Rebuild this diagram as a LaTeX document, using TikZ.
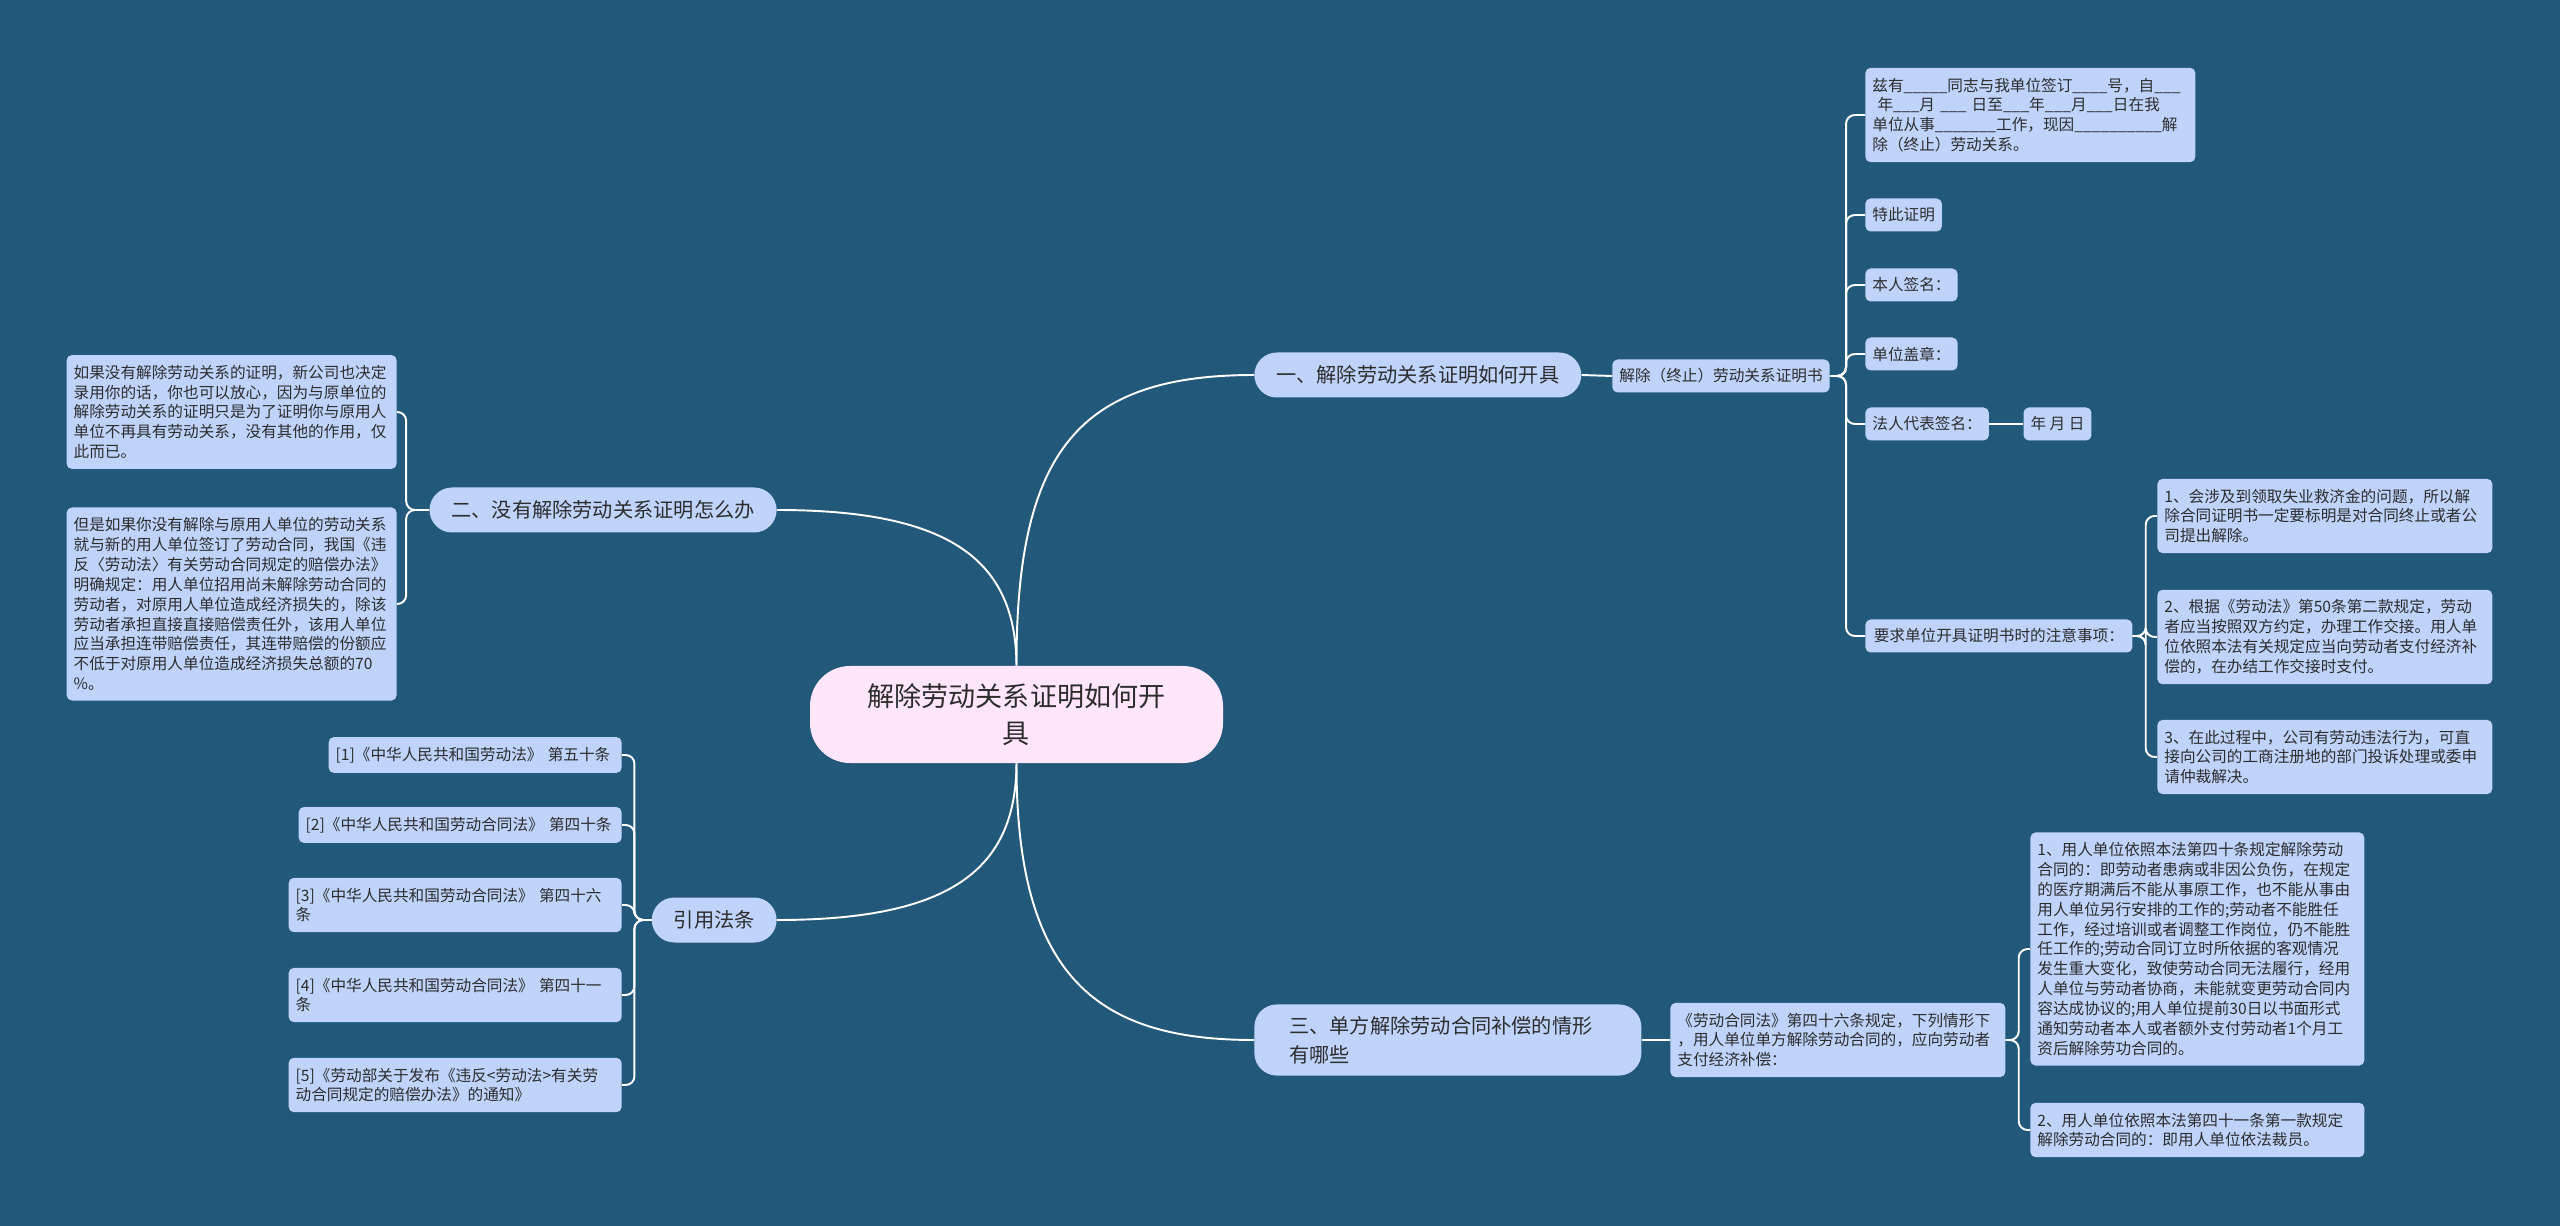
\documentclass[tikz,border=0pt]{standalone}
\usepackage{fontspec}
\setmainfont{Noto Sans CJK SC}
\usepackage{xcolor}
\definecolor{mapbg}{RGB}{34,88,122}
\definecolor{mapblue}{RGB}{191,211,251}
\definecolor{mappink}{RGB}{255,230,250}
\definecolor{maptext}{RGB}{45,45,45}
\usepackage{tikz}
\usetikzlibrary{positioning}

\begin{document}
\begin{tikzpicture}[x=0.2mm, y=-0.2mm,
  every node/.style={text=maptext},
  root/.style={fill=mappink, rounded corners=8mm, align=center, minimum width=82.6mm,
               minimum height=19.4mm, font=\fontsize{15.4}{21.3}\selectfont},
  branch/.style={fill=mapblue, rounded corners=4.5mm, inner xsep=4.4mm, minimum height=9mm,
                 font=\fontsize{11.5}{16.7}\selectfont},
  leaf/.style={fill=mapblue, rounded corners=3pt, align=left, inner xsep=1.4mm, inner ysep=2mm,
               font=\fontsize{8.9}{11.3}\selectfont},
  tag/.style={fill=mapblue, rounded corners=3pt, inner xsep=1.4mm, inner ysep=0pt,
              minimum height=6.6mm, font=\fontsize{8.9}{11.3}\selectfont},
  link/.style={draw=white, line width=1.1pt},
  elbow/.style={link, rounded corners=5pt}]

  % Background
  \fill[mapbg] (0,0) rectangle (2560,1226);
  \useasboundingbox (0,0) rectangle (2560,1226);

  % Root
  \node[root] (root) at (1016.5,714.5) {解除劳动关系证明如何开\\具};

  % Branch 1
  \node[branch, anchor=west] (b1) at (1254,375) {一、解除劳动关系证明如何开具};
  \node[tag, anchor=west] (cert) at (1612,376) {解除（终止）劳动关系证明书};
  \node[leaf, anchor=west, text width=63.2mm] (c1) at (1865,115)
       {兹有\_\_\_\_\_同志与我单位签订\_\_\_\_号，自\_\_\_\\
        \ 年\_\_\_月 \_\_\_ 日至\_\_\_年\_\_\_月\_\_\_日在我\\
        单位从事\_\_\_\_\_\_\_工作，现因\_\_\_\_\_\_\_\_\_\_解\\
        除（终止）劳动关系。};
  \node[tag, anchor=west] (c2) at (1865,215) {特此证明};
  \node[tag, anchor=west] (c3) at (1865,285) {本人签名：};
  \node[tag, anchor=west] (c4) at (1865,354) {单位盖章：};
  \node[tag, anchor=west] (c5) at (1865,424) {法人代表签名：};
  \node[tag, right=6.8mm of c5] (c5b) {年 月 日};
  \node[tag, anchor=west, minimum width=53.4mm] (c6) at (1865,636) {要求单位开具证明书时的注意事项：};
  \node[leaf, anchor=west, text width=64.2mm] (s1) at (2157,516)
       {1、会涉及到领取失业救济金的问题，所以解\\
        除合同证明书一定要标明是对合同终止或者公\\
        司提出解除。};
  \node[leaf, anchor=west, text width=64.2mm] (s2) at (2157,637)
       {2、根据《劳动法》第50条第二款规定，劳动\\
        者应当按照双方约定，办理工作交接。用人单\\
        位依照本法有关规定应当向劳动者支付经济补\\
        偿的，在办结工作交接时支付。};
  \node[leaf, anchor=west, text width=64.2mm] (s3) at (2157,757)
       {3、在此过程中，公司有劳动违法行为，可直\\
        接向公司的工商注册地的部门投诉处理或委申\\
        请仲裁解决。};

  % Branch 2
  \node[branch, anchor=east] (b2) at (777,510) {二、没有解除劳动关系证明怎么办};
  \node[leaf, anchor=east, text width=63.2mm] (l1) at (397,412)
       {如果没有解除劳动关系的证明，新公司也决定\\
        录用你的话，你也可以放心，因为与原单位的\\
        解除劳动关系的证明只是为了证明你与原用人\\
        单位不再具有劳动关系，没有其他的作用，仅\\
        此而已。};
  \node[leaf, anchor=east, text width=63.2mm] (l2) at (397,604)
       {但是如果你没有解除与原用人单位的劳动关系\\
        就与新的用人单位签订了劳动合同，我国《违\\
        反〈劳动法〉有关劳动合同规定的赔偿办法》\\
        明确规定：用人单位招用尚未解除劳动合同的\\
        劳动者，对原用人单位造成经济损失的，除该\\
        劳动者承担直接直接赔偿责任外，该用人单位\\
        应当承担连带赔偿责任，其连带赔偿的份额应\\
        不低于对原用人单位造成经济损失总额的70\\
        \%。};

  % Branch 3
  \node[branch, anchor=west, align=left, text width=63.4mm, inner xsep=7mm, inner ysep=2.3mm]
       (b3) at (1254,1040) {三、单方解除劳动合同补偿的情形\\有哪些};
  \node[leaf, anchor=west, text width=64.2mm] (law) at (1670,1040)
       {《劳动合同法》第四十六条规定，下列情形下\\
        ，用人单位单方解除劳动合同的，应向劳动者\\
        支付经济补偿：};
  \node[leaf, anchor=west, text width=64mm] (t1) at (2030,949)
       {1、用人单位依照本法第四十条规定解除劳动\\
        合同的：即劳动者患病或非因公负伤，在规定\\
        的医疗期满后不能从事原工作，也不能从事由\\
        用人单位另行安排的工作的;劳动者不能胜任\\
        工作，经过培训或者调整工作岗位，仍不能胜\\
        任工作的;劳动合同订立时所依据的客观情况\\
        发生重大变化，致使劳动合同无法履行，经用\\
        人单位与劳动者协商，未能就变更劳动合同内\\
        容达成协议的;用人单位提前30日以书面形式\\
        通知劳动者本人或者额外支付劳动者1个月工\\
        资后解除劳功合同的。};
  \node[leaf, anchor=west, text width=64mm] (t2) at (2030,1130)
       {2、用人单位依照本法第四十一条第一款规定\\
        解除劳动合同的：即用人单位依法裁员。};

  % Branch 4
  \node[branch, anchor=east] (b4) at (777,920) {引用法条};
  \node[leaf, anchor=east, text width=55.8mm] (r1) at (622,755) {[1]《中华人民共和国劳动法》 第五十条};
  \node[leaf, anchor=east, text width=61.8mm] (r2) at (622,825) {[2]《中华人民共和国劳动合同法》 第四十条};
  \node[leaf, anchor=east, text width=63.8mm] (r3) at (622,905) {[3]《中华人民共和国劳动合同法》 第四十六\\条};
  \node[leaf, anchor=east, text width=63.8mm] (r4) at (622,995) {[4]《中华人民共和国劳动合同法》 第四十一\\条};
  \node[leaf, anchor=east, text width=63.8mm] (r5) at (622,1085) {[5]《劳动部关于发布《违反<劳动法>有关劳\\动合同规定的赔偿办法》的通知》};

  % Root links
  \draw[link] (root.north) .. controls (1016,450) and (1080,375) .. (b1.west);
  \draw[link] (root.north) .. controls (1016,560) and (950,510) .. (b2.east);
  \draw[link] (root.south) .. controls (1016,980) and (1100,1040) .. (b3.west);
  \draw[link] (root.south) .. controls (1016,870) and (950,920) .. (b4.east);

  % Sub links
  \draw[link] (b1.east) -- (cert.west);
  \foreach \n in {c1,c2,c3,c4,c5,c6}
    \draw[elbow] (cert.east) -- ++(16,0) |- (\n.west);
  \draw[link] (c5.east) -- (c5b.west);
  \foreach \n in {s1,s2,s3}
    \draw[elbow] (c6.east) -- ++(13,0) |- (\n.west);
  \foreach \n in {l1,l2}
    \draw[elbow] (b2.west) -- ++(-23,0) |- (\n.east);
  \draw[link] (b3.east) -- (law.west);
  \foreach \n in {t1,t2}
    \draw[elbow] (law.east) -- ++(13,0) |- (\n.west);
  \foreach \n in {r1,r2,r3,r4,r5}
    \draw[elbow] (b4.west) -- ++(-17,0) |- (\n.east);
\end{tikzpicture}
\end{document}
